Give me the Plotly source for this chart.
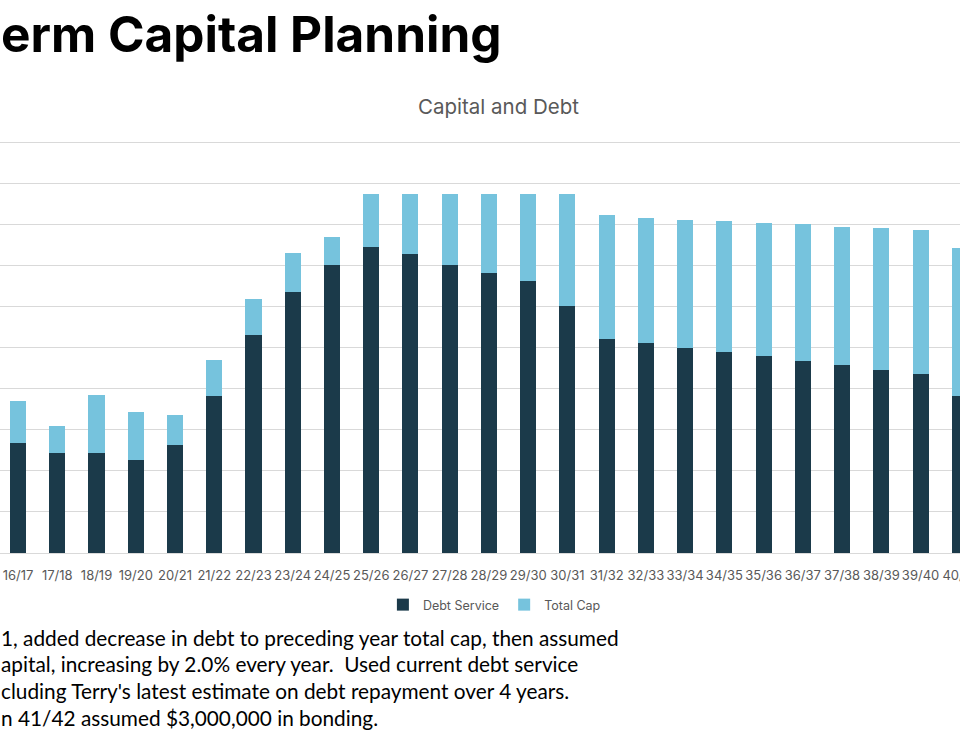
import plotly.graph_objects as go

years = ["16/17", "17/18", "18/19", "19/20", "20/21", "21/22", "22/23", "23/24",
         "24/25", "25/26", "26/27", "27/28", "28/29", "29/30", "30/31", "31/32",
         "32/33", "33/34", "34/35", "35/36", "36/37", "37/38", "38/39", "39/40", "40/41"]

debt_service = [2.67, 2.44, 2.44, 2.26, 2.63, 3.83, 5.30, 6.35, 7.02, 7.45, 7.27, 7.02,
                6.82, 6.62, 6.02, 5.21, 5.10, 4.99, 4.88, 4.79, 4.68, 4.57, 4.45, 4.35, 3.83]
total_cap = [1.04, 0.65, 1.40, 1.17, 0.74, 0.87, 0.87, 0.96, 0.66, 1.28, 1.46, 1.71,
             1.91, 2.11, 2.71, 3.01, 3.06, 3.12, 3.19, 3.23, 3.32, 3.37, 3.45, 3.51, 3.59]

page_title = "erm Capital Planning"
chart_title = "Capital and Debt"
notes = [
    "1, added decrease in debt to preceding year total cap, then assumed",
    "apital, increasing by 2.0% every year.  Used current debt service",
    "cluding Terry's latest estimate on debt repayment over 4 years.",
    "n 41/42 assumed $3,000,000 in bonding.",
]

DARK = "#1b3a4a"
LIGHT = "#76c3dd"
GRAY = "#595959"

fig = go.Figure()
fig.add_trace(go.Bar(name="Debt Service", x=years, y=debt_service, marker_color=DARK,
                     marker_line_width=0))
fig.add_trace(go.Bar(name="Total Cap", x=years, y=total_cap, marker_color=LIGHT,
                     marker_line_width=0))

YTOP = 10.1
H1 = 553
UNIT = 41.1
H0 = round(H1 - YTOP * UNIT)


def py(px):
    return (H1 - px) / (H1 - H0)


annotations = [
    dict(text=page_title, x=-1 / 960, xanchor="left", y=py(34), yanchor="middle",
         font=dict(family="Inter", size=49.5, color="#000000", weight="bold")),
    dict(text=chart_title, x=498 / 960, xanchor="center", y=py(106), yanchor="middle",
         font=dict(family="Inter", size=20.5, color=GRAY)),
]
for i, line in enumerate(notes):
    annotations.append(dict(text=line, x=-1 / 960, xanchor="left", y=py(637 + i * 26.7),
                            yanchor="middle",
                            font=dict(family="Lato", size=20.8, color="#000000")))
for a in annotations:
    a.update(xref="paper", yref="paper", showarrow=False)

fig.update_layout(
    width=960, height=750,
    barmode="stack", bargap=0.59,
    paper_bgcolor="white", plot_bgcolor="white",
    margin=dict(l=0, r=0, t=H0, b=750 - H1, autoexpand=False),
    showlegend=True,
    legend=dict(orientation="h", x=0.515, xanchor="center", y=py(605), yanchor="middle",
                font=dict(family="Inter", size=12.5, color=GRAY), traceorder="normal",
                itemwidth=30),
    annotations=annotations,
    xaxis=dict(range=[-0.46, 24.005], showgrid=False, showline=True, linecolor="#d9d9d9",
               linewidth=1, ticks="", ticklabelstandoff=10, automargin=False, tickangle=0,
               tickfont=dict(family="Inter", size=13, color=GRAY)),
    yaxis=dict(range=[0, YTOP], dtick=1, showgrid=True, gridcolor="#d9d9d9", gridwidth=1,
               showticklabels=False, zeroline=False, automargin=False),
)

fig.write_html("out.html", config={"displayModeBar": False},
               post_script="document.body.style.margin='0';")
